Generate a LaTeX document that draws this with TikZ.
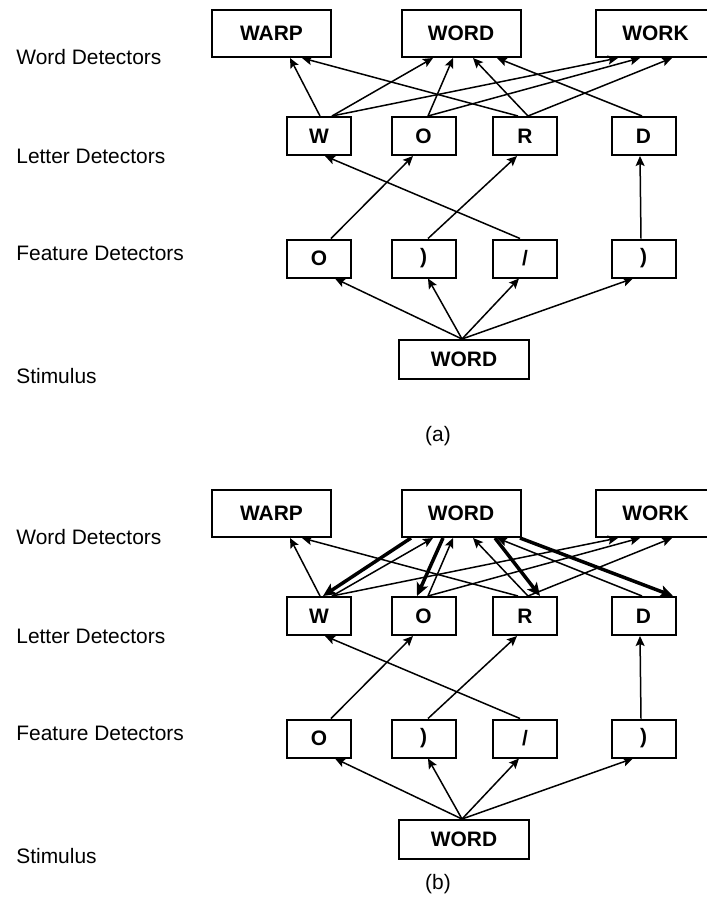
\documentclass[tikz,border=0pt]{standalone}
\usepackage{fontspec}
\setmainfont{Liberation Sans}
\usetikzlibrary{arrows.meta}

\begin{document}
\begin{tikzpicture}[x=0.5bp, y=-0.5bp,
    detector/.style={draw, line width=1bp, inner sep=0pt, minimum width=32bp,
        minimum height=19bp, font=\bfseries\fontsize{10.5}{12}\selectfont},
    worddet/.style={detector, minimum width=59.5bp, minimum height=23.5bp},
    stimbox/.style={detector, minimum width=65bp, minimum height=19.5bp},
    level/.style={anchor=west, inner sep=0pt, font=\fontsize{10.5}{12}\selectfont},
    link/.style={line width=0.75bp, -{Stealth[length=5bp, width=4.5bp, inset=1bp]}},
    strong/.style={line width=1.75bp, -{Stealth[length=6.5bp, width=6bp, inset=1.5bp]}}]
    \useasboundingbox (0,0) rectangle (707,906);

    \foreach \p/\dy in {a/0, b/480} {
        % Draw the level names
        \node[level] (\p-lword) at (16,57+\dy) {Word Detectors};
        \node[level] (\p-lletter) at (16,156+\dy) {Letter Detectors};
        \node[level] (\p-lfeature) at (16,253+\dy) {Feature Detectors};
        \node[level] (\p-lstim) at (16,376+\dy) {Stimulus};

        % Draw the detectors
        \node[worddet] (\p-warp) at (271.5,33.5+\dy) {WARP};
        \node[worddet] (\p-word) at (461,33.5+\dy) {WORD};
        \node[worddet] (\p-work) at (655.5,33.5+\dy) {WORK};
        \node[detector] (\p-W) at (319,136+\dy) {W};
        \node[detector] (\p-O) at (423.5,136+\dy) {O};
        \node[detector] (\p-R) at (525,136+\dy) {R};
        \node[detector] (\p-D) at (643.5,136+\dy) {D};
        \node[detector] (\p-f1) at (319,258.5+\dy) {O};
        \node[detector] (\p-f2) at (423.5,258.5+\dy) {)};
        \node[detector] (\p-f3) at (525,258.5+\dy) {/};
        \node[detector] (\p-f4) at (643.5,258.5+\dy) {)};
        \node[stimbox] (\p-stim) at (464,359.5+\dy) {WORD};

        % Draw the letter to word links
        \draw[link] ([xshift=0.5bp]\p-W.north) -- ([xshift=9.25bp]\p-warp.south);
        \draw[link] ([xshift=6.5bp]\p-W.north) -- ([xshift=-14bp]\p-word.south);
        \draw[link] ([xshift=6.5bp]\p-W.north) -- ([xshift=-18.75bp]\p-work.south);
        \draw[link] ([xshift=2.25bp]\p-O.north) -- ([xshift=-4bp]\p-word.south);
        \draw[link] ([xshift=2.25bp]\p-O.north) -- ([xshift=-7.75bp]\p-work.south);
        \draw[link] ([xshift=-3.5bp]\p-R.north) -- ([xshift=15.25bp]\p-warp.south);
        \draw[link] ([xshift=1.5bp]\p-R.north) -- ([xshift=6bp]\p-word.south);
        \draw[link] ([xshift=1.5bp]\p-R.north) -- ([xshift=8.25bp]\p-work.south);
        \draw[link] ([xshift=-0.75bp]\p-D.north) -- ([xshift=18bp]\p-word.south);

        % Draw the feature to letter links
        \draw[link] ([xshift=-2.5bp]\p-f3.north) -- ([xshift=3bp]\p-W.south);
        \draw[link] ([xshift=6bp]\p-f1.north) -- ([xshift=-5.25bp]\p-O.south);
        \draw[link] ([xshift=2.25bp]\p-f2.north) -- ([xshift=-4bp]\p-R.south);
        \draw[link] ([xshift=-1.25bp]\p-f4.north) -- ([xshift=-1.75bp]\p-D.south);

        % Draw the stimulus to feature links
        \draw[link] ([xshift=-1bp]\p-stim.north) -- ([xshift=8bp]\p-f1.south);
        \draw[link] ([xshift=-1bp]\p-stim.north) -- ([xshift=2.25bp]\p-f2.south);
        \draw[link] ([xshift=-1bp]\p-stim.north) -- ([xshift=-3bp]\p-f3.south);
        \draw[link] ([xshift=-1bp]\p-stim.north) -- ([xshift=-5.25bp]\p-f4.south);
    }

    % Draw the top-down links of (b)
    \draw[strong] ([xshift=-25bp]b-word.south) -- ([xshift=2bp]b-W.north);
    \draw[strong] ([xshift=-9bp]b-word.south) -- ([xshift=-3.25bp]b-O.north);
    \draw[strong] ([xshift=17bp]b-word.south) -- ([xshift=7.5bp]b-R.north);
    \draw[strong] ([xshift=29.5bp]b-word.south) -- ([xshift=14.75bp]b-D.north);

    % Draw the panel names
    \node[level, anchor=center] (capa) at (438,436) {(a)};
    \node[level, anchor=center] (capb) at (438,884) {(b)};
\end{tikzpicture}
\end{document}
